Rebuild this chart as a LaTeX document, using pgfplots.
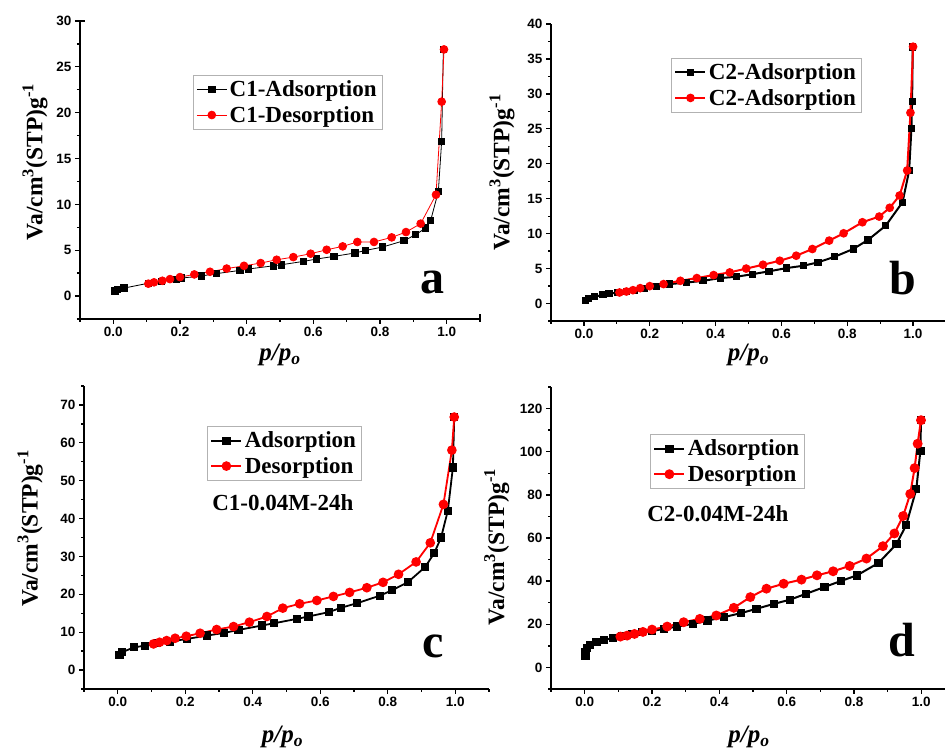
\documentclass[border=0pt]{standalone}
\usepackage{fontspec}
\setmainfont{Liberation Serif}
\newfontfamily\arialf{Liberation Sans}
\usepackage{pgfplots}
\pgfplotsset{compat=1.18}
\definecolor{dred}{HTML}{FF0000}

\pgfplotsset{
  iso/.style={
    scale only axis, anchor=south west,
    axis x line*=bottom, axis y line*=left,
    axis line style={line width=1.4pt,-},
    tick align=outside, major tick length=5pt, minor tick length=3pt,
    every tick/.style={line width=1.3pt, black},
    xmin=-0.1, xmax=1.1,
    xtick={0,0.2,0.4,0.6,0.8,1.0},
    minor xtick={-0.1,0.1,0.3,0.5,0.7,0.9,1.1},
    xticklabel style={/pgf/number format/fixed,/pgf/number format/fixed zerofill,/pgf/number format/precision=1},
    ticklabel style={font=\arialf\bfseries\fontsize{13.5}{15}\selectfont},
    /pgf/number format/assume math mode=true,
    xlabel={\textbf{\textit{p/p}\textsubscript{\textit{o}}}},
    ylabel={\textbf{Va/cm\textsuperscript{3}(STP)g\textsuperscript{-1}}},
    xlabel style={font=\fontsize{25}{27}\selectfont, anchor=center},
    ylabel style={font=\fontsize{23.5}{25}\selectfont, anchor=center},
    legend cell align=left,
    legend style={draw=gray!60, line width=0.8pt, anchor=north west,
      font=\bfseries\fontsize{23}{25}\selectfont, inner sep=3pt, row sep=3pt,
      nodes={inner sep=2.5pt}},
    legend image code/.code={\draw[mark repeat=2,mark phase=2] plot coordinates {(0pt,0pt)(15pt,0pt)(30pt,0pt)};},
  },
  ads/.style={black, mark=square*, mark size=3.2pt, mark options={solid}},
  des/.style={dred, mark=*, mark size=3.9pt, mark options={solid}},
}
\tikzset{letter/.style={font=\bfseries\fontsize{48}{48}\selectfont}}

\begin{document}
\begin{tikzpicture}
\useasboundingbox (0,0) rectangle (945pt,752pt);

% ---- a ----
\begin{axis}[iso, at={(80pt,433pt)}, width=400pt, height=298pt,
  ymin=-2.5, ymax=30, ytick={0,5,10,15,20,25,30},
  minor ytick={-2.5,2.5,7.5,12.5,17.5,22.5,27.5},
  xlabel style={at={(axis description cs:0.5,-0.121)}},
  ylabel style={at={(axis description cs:-0.1125,0.527)}},
  legend style={at={(axis description cs:0.2825,0.819)}},
  after end axis/.code={
    \draw[line width=1.3pt] (axis description cs:0,1) -- ++(5pt,0);
    \draw[line width=1.3pt] (axis description cs:1,0) -- ++(0,5pt);}]
\addplot[ads, line width=0.8pt] coordinates {
(0.005,0.55)(0.012,0.7)(0.032,0.87)(0.105,1.4)(0.145,1.6)(0.19,1.85)(0.205,1.96)
(0.265,2.2)(0.31,2.45)(0.38,2.8)(0.405,2.95)(0.48,3.3)(0.505,3.42)(0.57,3.78)
(0.61,4.04)(0.662,4.33)(0.725,4.7)(0.757,4.98)(0.808,5.35)(0.872,6.04)(0.907,6.7)
(0.937,7.42)(0.952,8.25)(0.975,11.4)(0.985,16.9)(0.99,26.9)};
\addplot[des, line width=0.8pt] coordinates {
(0.105,1.35)(0.122,1.5)(0.147,1.67)(0.17,1.85)(0.2,2.07)(0.243,2.36)(0.29,2.65)
(0.34,3.0)(0.392,3.3)(0.442,3.6)(0.49,3.96)(0.54,4.25)(0.592,4.62)(0.64,5.05)
(0.688,5.42)(0.732,5.9)(0.782,5.9)(0.835,6.4)(0.878,6.98)(0.922,7.9)(0.968,11.05)
(0.985,21.2)(0.992,26.9)};
\legend{C1-Adsorption,C1-Desorption}
\node[letter] at (axis description cs:0.88,0.121) {a};
\end{axis}

% ---- b ----
\begin{axis}[iso, at={(551pt,431pt)}, width=395pt, height=297pt,
  ymin=-2.5, ymax=40, ytick={0,5,10,15,20,25,30,35,40},
  minor ytick={-2.5,2.5,7.5,12.5,17.5,22.5,27.5,32.5,37.5},
  xlabel style={at={(axis description cs:0.5,-0.115)}},
  ylabel style={at={(axis description cs:-0.124,0.50)}},
  legend style={at={(axis description cs:0.304,0.886)}},
  ads/.append style={mark size=2.6pt}, des/.append style={mark size=3.3pt}]
\addplot[ads, line width=2pt] coordinates {
(0.005,0.48)(0.015,0.72)(0.032,0.96)(0.058,1.24)(0.076,1.39)(0.103,1.58)(0.129,1.72)
(0.154,1.91)(0.184,2.15)(0.22,2.39)(0.26,2.78)(0.311,3.0)(0.362,3.25)(0.414,3.64)
(0.463,3.83)(0.512,4.2)(0.562,4.6)(0.615,5.07)(0.666,5.4)(0.711,5.89)(0.762,6.7)
(0.818,7.8)(0.863,9.1)(0.917,11.15)(0.968,14.5)(0.988,19.0)(0.995,25.1)(0.997,28.9)
(0.999,36.7)};
\addplot[des, line width=2pt] coordinates {
(0.108,1.58)(0.129,1.72)(0.149,1.91)(0.171,2.2)(0.2,2.49)(0.242,2.78)(0.293,3.25)
(0.343,3.64)(0.394,4.07)(0.443,4.45)(0.493,5.0)(0.544,5.55)(0.595,6.12)(0.645,6.84)
(0.694,7.8)(0.745,9.0)(0.789,10.05)(0.846,11.63)(0.897,12.44)(0.929,13.7)(0.959,15.45)
(0.982,19.04)(0.992,27.3)(1.0,36.75)};
\legend{C2-Adsorption,C2-Adsorption}
\node[letter] at (axis description cs:0.891,0.145) {b};
\end{axis}

% ---- c ----
\begin{axis}[iso, at={(84pt,63pt)}, width=405pt, height=303pt,
  ymin=-5, ymax=75, ytick={0,10,20,30,40,50,60,70},
  minor ytick={-5,5,15,25,35,45,55,65,75},
  xlabel style={at={(axis description cs:0.49,-0.158)}},
  ylabel style={at={(axis description cs:-0.133,0.53)}},
  legend style={at={(axis description cs:0.304,0.868)}}]
\addplot[ads, line width=1.8pt] coordinates {
(0.005,4.07)(0.012,4.68)(0.048,6.0)(0.081,6.45)(0.116,7.07)(0.155,7.51)(0.205,8.22)
(0.264,9.1)(0.315,9.81)(0.358,10.6)(0.427,11.76)(0.464,12.37)(0.531,13.52)(0.565,14.14)
(0.625,15.29)(0.661,16.44)(0.71,17.68)(0.776,19.62)(0.812,21.04)(0.859,23.16)
(0.911,27.22)(0.938,30.93)(0.958,35.0)(0.978,42.07)(0.993,53.47)(0.997,66.8)};
\addplot[des, line width=1.8pt] coordinates {
(0.106,6.9)(0.124,7.34)(0.145,7.78)(0.17,8.4)(0.203,8.93)(0.244,9.72)(0.293,10.7)
(0.343,11.49)(0.39,12.64)(0.442,14.14)(0.489,16.35)(0.539,17.5)(0.59,18.38)(0.639,19.44)
(0.687,20.5)(0.738,21.74)(0.786,23.16)(0.832,25.28)(0.884,28.55)(0.926,33.59)
(0.965,43.75)(0.99,58.07)(0.997,66.8)};
\legend{Adsorption,Desorption}
\node[font=\bfseries\fontsize{23}{25}\selectfont] at (axis description cs:0.491,0.614) {C1-0.04M-24h};
\node[letter] at (axis description cs:0.862,0.142) {c};
\end{axis}

% ---- d ----
\begin{axis}[iso, at={(551pt,63pt)}, width=404pt, height=302pt,
  ymin=-10, ymax=130, ytick={0,20,40,60,80,100,120},
  minor ytick={-10,10,30,50,70,90,110,130},
  xlabel style={at={(axis description cs:0.49,-0.158)}},
  ylabel style={at={(axis description cs:-0.134,0.47)}},
  legend style={at={(axis description cs:0.245,0.844)}}]
\addplot[ads, line width=2pt] coordinates {
(0.002,5.43)(0.003,6.99)(0.007,9.0)(0.015,10.4)(0.035,11.65)(0.058,12.73)(0.084,13.66)
(0.111,14.6)(0.141,15.5)(0.17,16.3)(0.2,16.9)(0.235,17.86)(0.274,18.94)(0.322,20.19)
(0.365,21.74)(0.413,23.3)(0.464,25.16)(0.51,27.17)(0.563,29.5)(0.609,31.37)(0.658,34.16)
(0.712,37.27)(0.761,40.06)(0.809,42.7)(0.873,48.45)(0.926,57.14)(0.955,66.0)(0.985,82.6)
(0.997,100.2)(0.999,114.6)};
\addplot[des, line width=2pt] coordinates {
(0.106,14.29)(0.126,14.75)(0.148,15.53)(0.173,16.46)(0.2,17.55)(0.245,18.94)(0.294,20.96)
(0.342,22.5)(0.391,24.07)(0.443,27.64)(0.492,32.6)(0.54,36.5)(0.591,38.8)(0.644,40.7)
(0.69,42.7)(0.738,44.57)(0.787,47.05)(0.837,50.47)(0.886,56.21)(0.92,62.1)(0.946,70.19)
(0.967,80.43)(0.98,92.4)(0.989,103.7)(0.999,114.6)};
\legend{Adsorption,Desorption}
\node[font=\bfseries\fontsize{23}{25}\selectfont] at (axis description cs:0.413,0.579) {C2-0.04M-24h};
\node[letter] at (axis description cs:0.869,0.162) {d};
\end{axis}
\end{tikzpicture}
\end{document}
